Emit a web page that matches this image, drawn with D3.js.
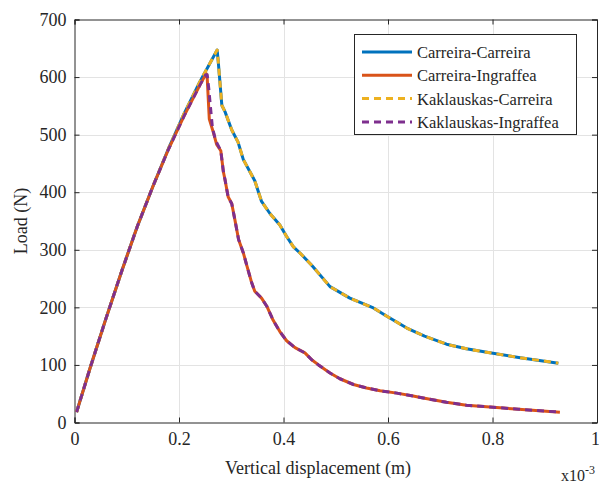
<!DOCTYPE html>
<html>
<head>
<meta charset="utf-8">
<script src="https://cdn.jsdelivr.net/npm/d3@7"></script>
<style>
  body { margin: 0; background: #fff; }
  text { font-family: "Liberation Serif", "Times New Roman", serif; fill: #262626; }
</style>
</head>
<body>
<div id="chart"></div>
<script>
// displacement in 1e-3 m, load in N
var carreiraCarreira = [[0.004,18],[0.03,95],[0.06,180],[0.09,262],[0.12,340],[0.15,410],[0.18,476],[0.21,537],[0.24,592],[0.273,647],[0.275,628],[0.282,551],[0.288,540],[0.301,508],[0.313,487],[0.323,457],[0.336,435],[0.345,420],[0.358,384],[0.374,363],[0.393,343],[0.406,323],[0.419,305],[0.432,294],[0.454,273],[0.489,236],[0.527,216],[0.572,199],[0.597,185],[0.636,164],[0.67,150],[0.712,136],[0.75,128],[0.795,121],[0.85,113],[0.926,103]];
var carreiraIngraffea = [[0.004,18],[0.03,95],[0.06,180],[0.09,262],[0.12,340],[0.15,410],[0.18,475],[0.21,533],[0.24,586],[0.252,606],[0.254,598],[0.258,527],[0.266,503],[0.272,483],[0.28,472],[0.285,435],[0.288,422],[0.294,392],[0.301,380],[0.307,352],[0.314,318],[0.323,295],[0.33,272],[0.339,243],[0.345,228],[0.358,216],[0.368,202],[0.38,178],[0.393,158],[0.406,142],[0.422,130],[0.441,121],[0.454,109],[0.467,100],[0.489,86],[0.508,76],[0.534,66],[0.559,60],[0.585,55],[0.617,51],[0.648,46],[0.67,42],[0.712,35],[0.75,30],[0.795,27],[0.85,23],[0.929,18]];
var kaklauskasCarreira = [[0.004,18],[0.03,95],[0.06,180],[0.09,262],[0.12,340],[0.15,410],[0.18,476],[0.21,537],[0.24,592],[0.273,647],[0.275,628],[0.282,551],[0.288,540],[0.301,508],[0.313,487],[0.323,457],[0.336,435],[0.345,420],[0.358,384],[0.374,363],[0.393,343],[0.406,323],[0.419,305],[0.432,294],[0.454,273],[0.489,236],[0.527,216],[0.572,199],[0.597,185],[0.636,164],[0.67,150],[0.712,136],[0.75,128],[0.795,121],[0.85,113],[0.926,103]];
var kaklauskasIngraffea = [[0.004,18],[0.03,95],[0.06,180],[0.09,262],[0.12,340],[0.15,410],[0.18,475],[0.21,533],[0.24,586],[0.251,604],[0.254,604],[0.257,580],[0.26,550],[0.264,512],[0.27,490],[0.28,472],[0.285,435],[0.288,422],[0.294,392],[0.301,380],[0.307,352],[0.314,318],[0.323,295],[0.33,272],[0.339,243],[0.345,228],[0.358,216],[0.368,202],[0.38,178],[0.393,158],[0.406,142],[0.422,130],[0.441,121],[0.454,109],[0.467,100],[0.489,86],[0.508,76],[0.534,66],[0.559,60],[0.585,55],[0.617,51],[0.648,46],[0.67,42],[0.712,35],[0.75,30],[0.795,27],[0.85,23],[0.929,18]];

var seriesNames = ["Carreira-Carreira", "Carreira-Ingraffea", "Kaklauskas-Carreira", "Kaklauskas-Ingraffea"];
var xTicks = [0, 0.2, 0.4, 0.6, 0.8, 1];
var yTicks = [0, 100, 200, 300, 400, 500, 600, 700];

var w = 599, h = 483;
var mLeft = 74.5, mRight = 597, mTop = 19.5, mBottom = 422.5;

var xScale = d3.scaleLinear().domain([0, 1]).range([mLeft, mRight]);
var yScale = d3.scaleLinear().domain([0, 700]).range([mBottom, mTop]);

var svg = d3.select("#chart").append("svg")
    .attr("width", w)
    .attr("height", h);

// grid
svg.append("g").selectAll("line").data(xTicks.slice(1, -1)).enter().append("line")
    .attr("x1", function(d) { return Math.round(xScale(d)) + 0.5; })
    .attr("x2", function(d) { return Math.round(xScale(d)) + 0.5; })
    .attr("y1", mTop).attr("y2", mBottom)
    .attr("stroke", "#e3e3e3").attr("stroke-width", 1);
svg.append("g").selectAll("line").data(yTicks.slice(1, -1)).enter().append("line")
    .attr("y1", function(d) { return Math.round(yScale(d)) + 0.5; })
    .attr("y2", function(d) { return Math.round(yScale(d)) + 0.5; })
    .attr("x1", mLeft).attr("x2", mRight)
    .attr("stroke", "#e3e3e3").attr("stroke-width", 1);

// axes (ticks inside, box on)
var xAxis = d3.axisBottom(xScale).tickValues(xTicks).tickSize(-5).tickPadding(10).tickFormat(d3.format("~g"));
var yAxis = d3.axisLeft(yScale).tickValues(yTicks).tickSize(-5).tickPadding(8);
var xTop = d3.axisTop(xScale).tickValues(xTicks).tickSize(-5).tickFormat("");
var yRight = d3.axisRight(yScale).tickValues(yTicks).tickSize(-5).tickFormat("");

function styleAxis(g) {
  g.select(".domain").attr("stroke", "#262626");
  g.selectAll(".tick line").attr("stroke", "#262626");
  g.selectAll("text").style("font-family", "Liberation Serif").style("font-size", "18px").attr("fill", "#262626");
}

var gx = svg.append("g").attr("transform", "translate(0," + mBottom + ")").call(xAxis).call(styleAxis);
gx.selectAll(".tick text").filter(function(d) { return d === 1; }).attr("dx", -2);
svg.append("g").attr("transform", "translate(" + mLeft + ",0)").call(yAxis).call(styleAxis);
svg.append("g").attr("transform", "translate(0," + mTop + ")").call(xTop).call(styleAxis);
svg.append("g").attr("transform", "translate(" + mRight + ",0)").call(yRight).call(styleAxis);

// curves
var line = d3.line()
    .x(function(d) { return xScale(d[0]); })
    .y(function(d) { return yScale(d[1]); });

var series = [
  { data: carreiraCarreira, color: "#0072BD", dash: null },
  { data: carreiraIngraffea, color: "#D95319", dash: null },
  { data: kaklauskasCarreira, color: "#EDB120", dash: "7,5" },
  { data: kaklauskasIngraffea, color: "#7E2F8E", dash: "7,5" }
];

series.forEach(function(s) {
  svg.append("path")
    .datum(s.data)
    .attr("d", line)
    .attr("fill", "none")
    .attr("stroke", s.color)
    .attr("stroke-width", 3)
    .attr("stroke-linejoin", "round")
    .attr("stroke-dasharray", s.dash);
});

// axis labels
svg.append("text")
    .attr("x", 318)
    .attr("y", 474)
    .attr("text-anchor", "middle")
    .style("font-size", "18px")
    .text("Vertical displacement (m)");

svg.append("text")
    .attr("transform", "translate(27," + ((mTop + mBottom) / 2) + ") rotate(-90)")
    .attr("text-anchor", "middle")
    .style("font-size", "18px")
    .text("Load (N)");

var expo = svg.append("text")
    .attr("x", 561)
    .attr("y", 481)
    .style("font-size", "16px");
expo.append("tspan").text("x10");
expo.append("tspan").attr("dy", -7).style("font-size", "12px").text("-3");

// legend
var legend = svg.append("g");
legend.append("rect")
    .attr("x", 354.5).attr("y", 34.5)
    .attr("width", 222).attr("height", 100)
    .attr("fill", "#fff").attr("stroke", "#262626").attr("stroke-width", 1);

var items = legend.selectAll("g.item").data(series).enter().append("g")
    .attr("class", "item")
    .attr("transform", function(d, i) { return "translate(0," + (52 + i * 23.3) + ")"; });
items.append("line")
    .attr("x1", 362).attr("x2", 412)
    .attr("y1", 0).attr("y2", 0)
    .attr("stroke", function(d) { return d.color; })
    .attr("stroke-width", 3)
    .attr("stroke-dasharray", function(d) { return d.dash; });
items.append("text")
    .attr("x", 417)
    .attr("y", 6)
    .style("font-size", "16.5px")
    .text(function(d, i) { return seriesNames[i]; });
</script>
</body>
</html>
